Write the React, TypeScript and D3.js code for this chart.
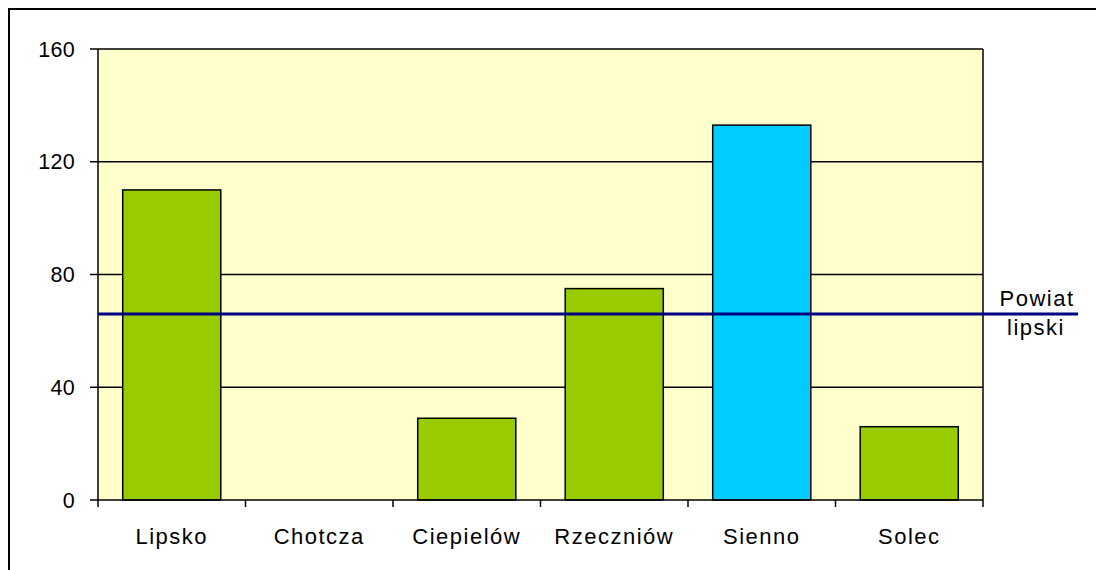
import React from "react";
import * as d3 from "d3";

const categories = ["Lipsko", "Chotcza", "Ciepielów", "Rzeczniów", "Sienno", "Solec"];
const values = [110, 0, 29, 75, 133, 26];
const highlighted = ["Sienno"];
const powiatValue = 66;
const powiatLabel = ["Powiat", "lipski"];
const yTicks = [0, 40, 80, 120, 160];

const W = 1096;
const H = 570;
const M = { left: 98, right: 983, top: 49, bottom: 500 };
const FONT = "'Liberation Sans', Arial, sans-serif";

export default function App() {
  const x = d3.scaleBand<string>().domain(categories).range([M.left, M.right]).paddingInner(0.335).paddingOuter(0.1675);
  const y = d3.scaleLinear().domain([0, 160]).range([M.bottom, M.top]);
  const step = (M.right - M.left) / categories.length;
  const boundaries = d3.range(categories.length + 1).map((i) => M.left + i * step);
  const py = y(powiatValue);

  return (
    <svg width={W} height={H} style={{ position: "absolute", left: 0, top: 0, background: "#fff", display: "block" }} fontFamily={FONT}>
      <path d={`M9,${H} V9 H${W}`} fill="none" stroke="#000" strokeWidth={2} />
      <rect x={M.left} y={M.top} width={M.right - M.left} height={M.bottom - M.top} fill="#FFFFCC" />
      {yTicks.filter((t) => t > 0).map((t) => (
        <line key={t} x1={M.left} x2={M.right} y1={y(t)} y2={y(t)} stroke="#000" strokeWidth={1.5} />
      ))}
      <line x1={M.right} x2={M.right} y1={M.top} y2={M.bottom} stroke="#000" strokeWidth={1.5} />
      {categories.map((c, i) => (
        <rect
          key={c}
          x={x(c)}
          y={y(values[i])}
          width={x.bandwidth()}
          height={M.bottom - y(values[i])}
          fill={highlighted.includes(c) ? "#00CCFF" : "#99CC00"}
          stroke="#000"
          strokeWidth={1.5}
        />
      ))}
      <line x1={M.left} x2={M.left} y1={M.top} y2={M.bottom} stroke="#000" strokeWidth={1.5} />
      <line x1={M.left} x2={M.right} y1={M.bottom} y2={M.bottom} stroke="#000" strokeWidth={1.5} />
      {yTicks.map((t) => (
        <g key={t}>
          <line x1={M.left - 8} x2={M.left} y1={y(t)} y2={y(t)} stroke="#000" strokeWidth={1.5} />
          <text x={75} y={y(t)} dy="0.36em" textAnchor="end" fontSize={21.5} letterSpacing={0.3} fill="#000">
            {t}
          </text>
        </g>
      ))}
      {boundaries.map((b, i) => (
        <line key={i} x1={b} x2={b} y1={M.bottom} y2={M.bottom + 7} stroke="#000" strokeWidth={1.5} />
      ))}
      {categories.map((c) => (
        <text key={c} x={(x(c) as number) + x.bandwidth() / 2} y={544} textAnchor="middle" fontSize={22} letterSpacing={1.5} fill="#000">
          {c}
        </text>
      ))}
      <line x1={M.left} x2={1078} y1={py} y2={py} stroke="#000080" strokeWidth={3} />
      <text x={1037} y={306} textAnchor="middle" fontSize={22} letterSpacing={1.5} fill="#000">{powiatLabel[0]}</text>
      <text x={1036} y={335} textAnchor="middle" fontSize={22} letterSpacing={1.5} fill="#000">{powiatLabel[1]}</text>
    </svg>
  );
}
